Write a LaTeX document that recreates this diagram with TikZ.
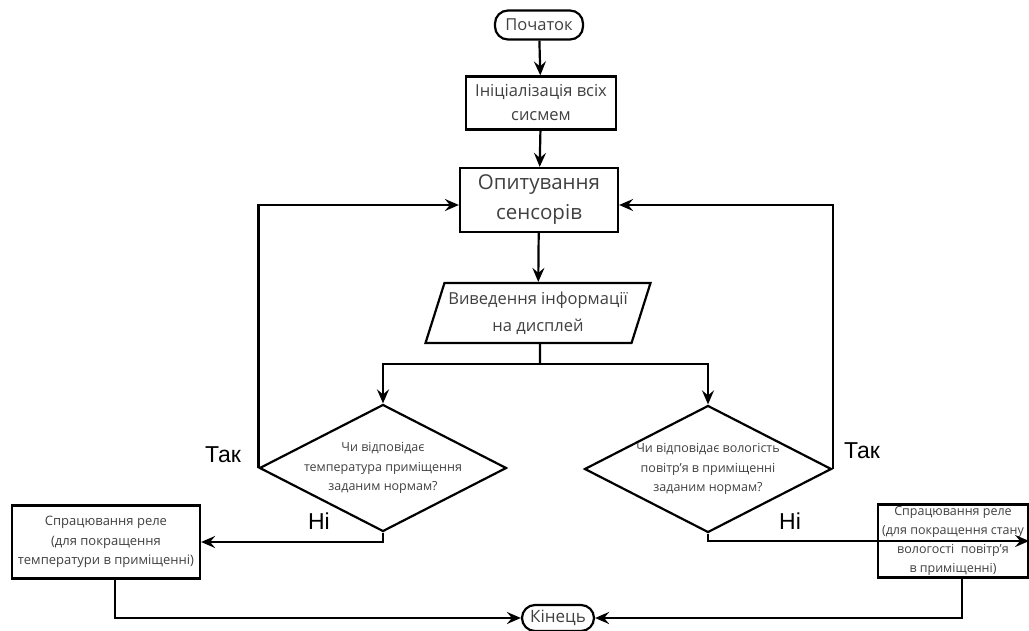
\documentclass[tikz,border=0pt]{standalone}
\usepackage{fontspec}
\setmainfont{Open Sans}
\newfontfamily\labelfont{Liberation Sans}
\usetikzlibrary{shapes.geometric,arrows.meta}

\begin{document}
\begin{tikzpicture}[x=1pt,y=-1pt,line width=2.2pt]
    % Define colors
    \definecolor{textgray}{RGB}{64, 64, 64}

    \tikzset{
        arr/.style={-{Stealth[length=14pt,width=12pt,inset=5pt]}},
        term/.style={draw, rounded corners=13pt, inner sep=0pt, text=textgray, font=\fontsize{16.5}{20}\selectfont},
        box/.style={draw, rectangle, inner sep=0pt, align=center, text=textgray},
        io/.style={draw, trapezium, trapezium left angle=66, trapezium right angle=114, trapezium stretches body,
            inner sep=0pt, align=center, text=textgray, font=\fontsize{16.5}{27}\selectfont},
        decision/.style={draw, diamond, inner sep=0pt, minimum width=247pt, minimum height=127pt},
        question/.style={align=center, text=textgray, font=\fontsize{12.5}{19.5}\selectfont},
        yesno/.style={inner sep=0pt, font=\labelfont\fontsize{23}{26}\selectfont},
    }

    \useasboundingbox (0,0) rectangle (1029,631);

    % Blocks
    \node[term, minimum width=88pt, minimum height=29pt] (start) at (539,25) {Початок};
    \node[box, minimum width=150pt, minimum height=53pt, font=\fontsize{16.5}{24}\selectfont] (init) at (541,103) {Ініціалізація всіх\\сисмем};
    \node[box, minimum width=158pt, minimum height=64pt, font=\fontsize{20.5}{30}\selectfont] (poll) at (539,200) {Опитування\\сенсорів};
    \node[io, minimum width=225pt, minimum height=60pt] (disp) at (538,313) {Виведення інформації\\на дисплей};

    \node[decision, label={[question]center:Чи відповідає\\температура приміщення\\заданим нормам?}] (qtemp) at (383,468) {};
    \node[decision, label={[question]center:Чи відповідає вологість\\повітр'я в приміщенні\\заданим нормам?}] (qhum) at (708,469) {};

    \node[box, minimum width=188pt, minimum height=73pt, font=\fontsize{13}{19.5}\selectfont] (relT) at (106,542)
        {Спрацювання реле\\(для покращення\\температури в приміщенні)};
    \node[box, minimum width=150pt, minimum height=73pt, font=\fontsize{12.5}{18.7}\selectfont] (relH) at (953,541)
        {Спрацювання реле\\(для покращення стану\\вологості\ \ повітр'я\\в приміщенні)};

    \node[term, minimum width=72pt, minimum height=26pt, font=\fontsize{17}{20}\selectfont] (stop) at (558,618) {Кінець};

    % Main flow
    \draw[arr] (start) -- (init);
    \draw[arr] (init) -- (poll);
    \draw[arr] (poll) -- (disp);

    \coordinate (split) at (540,364);
    \draw ([xshift=2pt]disp.south) -- (split);
    \draw[arr] (split) -| (qtemp.north);
    \draw[arr] (split) -| (qhum.north);

    % Loops back (yes)
    \draw[arr] (qtemp.west) |- ([yshift=-5pt]poll.west);
    \draw[arr] (qhum.east) |- ([yshift=-5pt]poll.east);

    % No branches
    \draw[arr] (qtemp.south) |- (relT.east);
    \draw[arr] (qhum.south) |- (relH.east);

    % To the end
    \draw[arr] ([xshift=9pt]relT.south) |- (stop.west);
    \draw[arr] ([xshift=9pt]relH.south) |- (stop.east);

    % Labels
    \node[yesno] (yesL) at (223,455) {Так};
    \node[yesno] (yesR) at (862,451) {Так};
    \node[yesno] (noL) at (319,521) {Ні};
    \node[yesno] (noR) at (790,521) {Ні};
\end{tikzpicture}
\end{document}
